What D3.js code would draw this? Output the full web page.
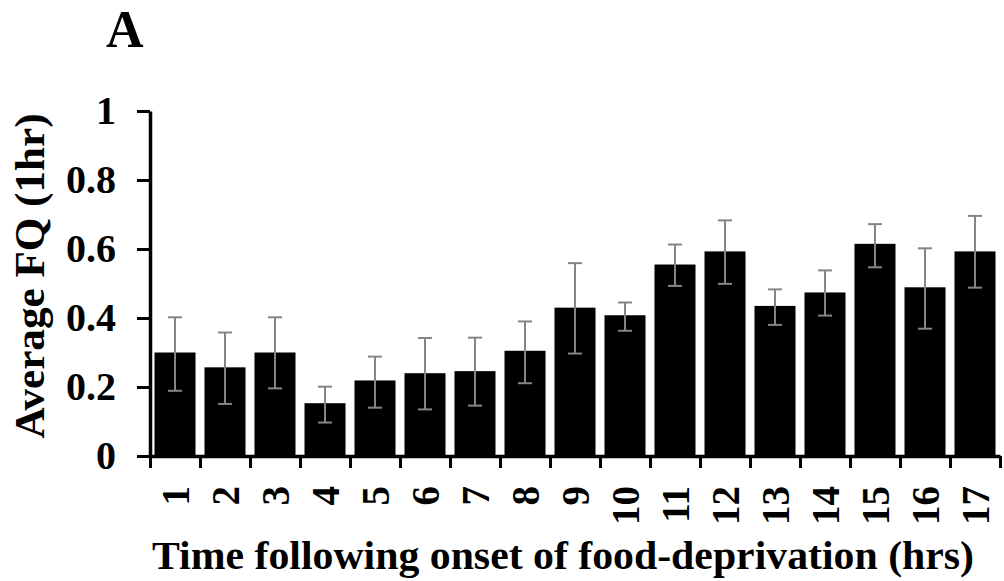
<!DOCTYPE html>
<html>
<head>
<meta charset="utf-8">
<script src="https://cdnjs.cloudflare.com/ajax/libs/d3/7.8.5/d3.min.js"></script>
<style>
body{margin:0;background:#fff;}
text{font-family:"Liberation Serif","Times New Roman",serif;font-weight:bold;fill:#000;}
</style>
</head>
<body>
<svg id="chart"></svg>
<script>
var hours=["1","2","3","4","5","6","7","8","9","10","11","12","13","14","15","16","17"];
var meanFQ=[0.300,0.257,0.300,0.153,0.219,0.240,0.246,0.305,0.430,0.408,0.555,0.593,0.435,0.474,0.615,0.489,0.593];
var errTop=[0.402,0.358,0.402,0.201,0.288,0.342,0.343,0.390,0.559,0.445,0.613,0.683,0.483,0.538,0.672,0.602,0.696];
var errBottom=[0.189,0.151,0.196,0.097,0.140,0.135,0.146,0.211,0.297,0.363,0.493,0.499,0.380,0.407,0.547,0.369,0.488];
var yTicks=[0,0.2,0.4,0.6,0.8,1];
var yTickLabels=["0","0.2","0.4","0.6","0.8","1"];

var w=1004;
var h=581;
var margin={left:150,right:4,top:111,bottom:125};

var data=hours.map(function(d,i){
  return {hour:d,mean:meanFQ[i],hi:errTop[i],lo:errBottom[i]};
});

var svg=d3.select("#chart")
          .attr("width",w)
          .attr("height",h);

var xScale=d3.scaleBand()
             .domain(hours)
             .range([margin.left,w-margin.right])
             .paddingInner(0.18)
             .paddingOuter(0.09);
var edgeScale=d3.scaleLinear()
                .domain([0,hours.length])
                .range([margin.left,w-margin.right]);
var yScale=d3.scaleLinear()
             .domain([0,1])
             .range([h-margin.bottom,margin.top]);

// bars
svg.selectAll("rect.bar")
   .data(data)
   .enter()
   .append("rect")
   .classed("bar",true)
   .attr("x",function(d){return xScale(d.hour);})
   .attr("y",function(d){return yScale(d.mean);})
   .attr("width",xScale.bandwidth())
   .attr("height",function(d){return yScale(0)-yScale(d.mean);})
   .attr("fill","#000");

// error bars
var err=svg.selectAll("g.err")
           .data(data)
           .enter()
           .append("g")
           .classed("err",true)
           .attr("stroke","#858585")
           .attr("stroke-width",2);
err.append("line")
   .attr("x1",function(d){return xScale(d.hour)+xScale.bandwidth()/2;})
   .attr("x2",function(d){return xScale(d.hour)+xScale.bandwidth()/2;})
   .attr("y1",function(d){return yScale(d.hi);})
   .attr("y2",function(d){return yScale(d.lo);});
["hi","lo"].forEach(function(k){
  err.append("line")
     .attr("x1",function(d){return xScale(d.hour)+xScale.bandwidth()/2-7;})
     .attr("x2",function(d){return xScale(d.hour)+xScale.bandwidth()/2+7;})
     .attr("y1",function(d){return yScale(d[k]);})
     .attr("y2",function(d){return yScale(d[k]);});
});

// x axis: ticks at category edges
var xEdgeAxis=d3.axisBottom(edgeScale)
                .tickValues(d3.range(hours.length+1))
                .tickFormat("")
                .tickSize(12)
                .tickSizeOuter(0);
var gx=svg.append("g")
          .classed("xAxis",true)
          .attr("transform","translate(0,"+(h-margin.bottom)+")")
          .call(xEdgeAxis);
gx.select(".domain").attr("stroke","#000").attr("stroke-width",3.5);
gx.selectAll(".tick line").attr("stroke","#000").attr("stroke-width",3);

// x labels, rotated
var xLabelAxis=d3.axisBottom(xScale).tickSize(0);
var gxl=svg.append("g")
           .attr("transform","translate(0,"+(h-margin.bottom)+")")
           .call(xLabelAxis);
gxl.select(".domain").remove();
gxl.selectAll("text")
   .attr("font-size",39)
   .attr("text-anchor","end")
   .attr("x",-30)
   .attr("y",0)
   .attr("dy","0.35em")
   .attr("transform","rotate(-90)");

// y axis
var yAxis=d3.axisLeft(yScale)
            .tickValues(yTicks)
            .tickFormat(function(d,i){return yTickLabels[i];})
            .tickSize(13)
            .tickSizeOuter(0)
            .tickPadding(21);
var gy=svg.append("g")
          .classed("yAxis",true)
          .attr("transform","translate("+margin.left+",0)")
          .call(yAxis);
gy.select(".domain").attr("stroke","#000").attr("stroke-width",3.5);
gy.selectAll(".tick line").attr("stroke","#000").attr("stroke-width",3);
gy.selectAll("text").attr("font-size",40).attr("fill","#000");

// titles
svg.append("text")
   .attr("x",106)
   .attr("y",47)
   .attr("font-size",52)
   .text("A");

svg.append("text")
   .attr("transform","translate(44,276) rotate(-90)")
   .attr("text-anchor","middle")
   .attr("font-size",42)
   .attr("textLength",325)
   .attr("lengthAdjust","spacingAndGlyphs")
   .text("Average FQ (1hr)");

svg.append("text")
   .attr("x",563)
   .attr("y",569)
   .attr("text-anchor","middle")
   .attr("font-size",39)
   .attr("textLength",822)
   .attr("lengthAdjust","spacingAndGlyphs")
   .text("Time following onset of food-deprivation (hrs)");
</script>
</body>
</html>
